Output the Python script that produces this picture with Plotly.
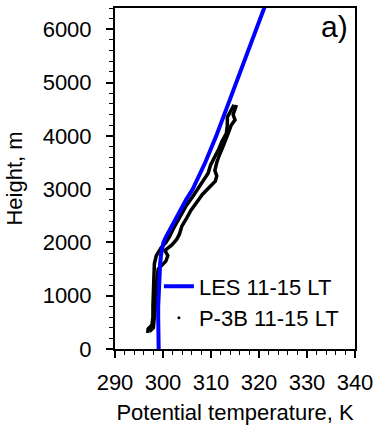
import plotly.graph_objects as go

# LES profile (potential temperature K vs height m)
les_height = [0, 200, 400, 600, 800, 1000, 1200, 1400, 1600, 1800, 1900, 2000, 2100, 2200,
              2400, 2600, 2800, 3000, 3500, 4000, 4500, 5000, 5500, 6000, 6500]
les_theta = [299.1, 299.0, 299.0, 299.0, 299.0, 299.05, 299.1, 299.2, 299.4, 299.65, 299.8, 300.1,
             300.6, 301.2, 302.2, 303.4, 304.8, 306.2, 308.8, 311.1, 313.2, 315.3, 317.4, 319.5, 321.5]

# P-3B aircraft profile, cooler (left) strand
obs_a_height = [300, 380, 450, 600, 800, 1000, 1200, 1400, 1600, 1750, 1900, 2000, 2100, 2250,
                2400, 2550, 2700, 2850, 3000, 3150, 3300, 3450, 3600, 3750, 3900, 4050, 4200,
                4350, 4500, 4580]
obs_a_theta = [296.8, 296.9, 297.7, 297.9, 297.9, 298.0, 298.0, 298.1, 298.2, 298.6, 299.6, 300.6,
               301.3, 302.1, 303.0, 303.9, 304.9, 306.1, 307.2, 308.3, 309.4, 309.9, 310.8, 311.6,
               312.3, 313.2, 313.4, 313.4, 314.3, 314.8]

# P-3B aircraft profile, warmer (right) strand
obs_b_height = [4580, 4500, 4400, 4300, 4200, 4100, 3950, 3800, 3650, 3500, 3350, 3250, 3150,
                3050, 2900, 2750, 2600, 2450, 2300, 2150, 2050, 1950, 1850, 1750, 1650, 1500,
                1200, 900, 600, 400, 330]
obs_b_theta = [315.3, 315.0, 314.6, 315.0, 314.2, 313.8, 313.2, 312.5, 311.8, 311.2, 310.8, 311.2,
               310.9, 309.8, 308.2, 307.0, 305.8, 304.9, 303.9, 303.4, 302.8, 301.8, 300.4, 301.0,
               300.6, 299.0, 298.6, 298.5, 298.3, 298.0, 297.2]

x_ticks = [290, 300, 310, 320, 330, 340]
y_ticks = [0, 1000, 2000, 3000, 4000, 5000, 6000]

FONT = "Liberation Sans, Arial, Helvetica, sans-serif"

fig = go.Figure()
fig.add_trace(go.Scatter(x=obs_a_theta, y=obs_a_height, mode="lines",
                         line=dict(color="black", width=3.5), showlegend=False))
fig.add_trace(go.Scatter(x=obs_b_theta, y=obs_b_height, mode="lines",
                         line=dict(color="black", width=3.5), showlegend=False))
fig.add_trace(go.Scatter(x=les_theta, y=les_height, mode="lines",
                         line=dict(color="#0000ff", width=4), name="LES 11-15 LT"))
fig.add_trace(go.Scatter(x=[None], y=[None], mode="markers",
                         marker=dict(color="black", size=3), name="P-3B 11-15 LT"))

axis_common = dict(showline=True, linecolor="black", linewidth=2, mirror=True,
                   showgrid=False, zeroline=False, ticks="outside", ticklen=7,
                   tickwidth=1.5, tickcolor="black", automargin=False,
                   tickfont=dict(family=FONT, size=22, color="black"))

fig.update_xaxes(range=[290, 340], tickvals=x_ticks,
                 minor=dict(dtick=2, ticks="outside", ticklen=4, tickcolor="black", tickwidth=1),
                 title=dict(text="Potential temperature, K", font=dict(family=FONT, size=22, color="black"),
                            standoff=10),
                 ticklabelstandoff=6,
                 **axis_common)
fig.update_yaxes(range=[0, 6400], tickvals=y_ticks,
                 minor=dict(dtick=200, ticks="outside", ticklen=4, tickcolor="black", tickwidth=1),
                 title=dict(text="Height, m", font=dict(family=FONT, size=22, color="black"),
                            standoff=14),
                 ticklabelstandoff=10,
                 **axis_common)

fig.add_annotation(text="a)", xref="paper", yref="paper", x=0.995, y=0.995,
                   xanchor="right", yanchor="top", showarrow=False, xshift=-4, yshift=2,
                   font=dict(family=FONT, size=30, color="black"))

fig.update_layout(
    width=375, height=425,
    margin=dict(l=115, r=20, t=8, b=76),
    plot_bgcolor="white", paper_bgcolor="white",
    font=dict(family=FONT, size=22, color="black"),
    legend=dict(x=0.183, y=0.245, xanchor="left", yanchor="top",
                bgcolor="rgba(0,0,0,0)", font=dict(family=FONT, size=22, color="black"),
                tracegroupgap=0, itemwidth=30),
)

fig.write_html("out.html")
